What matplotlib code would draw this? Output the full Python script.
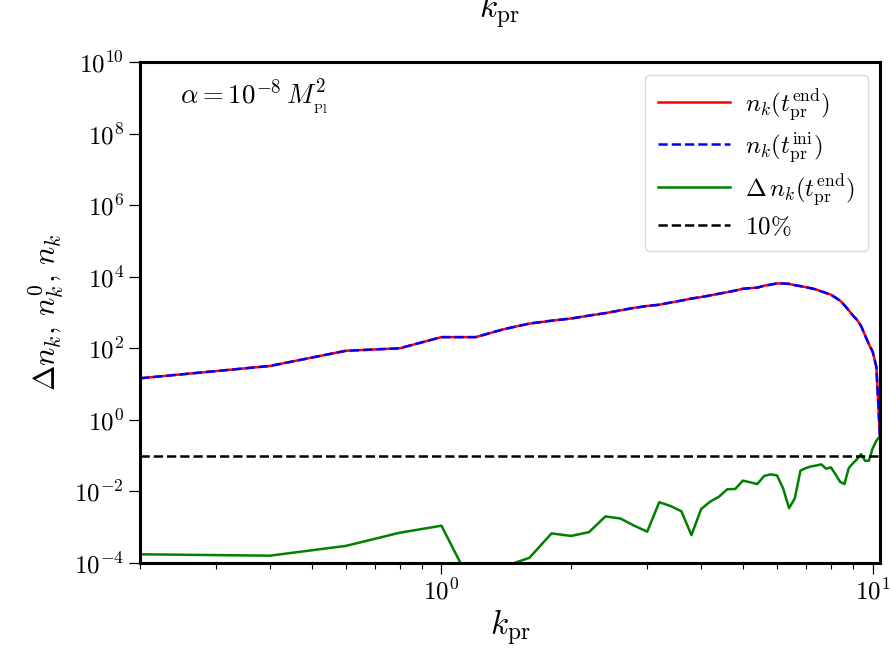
import numpy as np
import matplotlib
matplotlib.use("Agg")
import matplotlib.pyplot as plt
from matplotlib.ticker import FuncFormatter, LogLocator, NullFormatter

plt.rcParams['mathtext.fontset'] = 'cm'
plt.rcParams['font.family'] = 'serif'
plt.rcParams['font.serif'] = ['DejaVu Serif']

# momentum grid
k_pr = [0.2, 0.4, 0.6, 0.8, 1.0, 1.2, 1.4, 1.6, 1.8, 2.0, 2.2, 2.4, 2.6, 2.8, 3.0,
        3.2, 3.4, 3.6, 3.8, 4.0, 4.2, 4.4, 4.6, 4.8, 5.0, 5.2, 5.4, 5.6, 5.8, 6.0,
        6.2, 6.4, 6.6, 6.8, 7.0, 7.2, 7.4, 7.6, 7.8, 8.0, 8.2, 8.4, 8.6, 8.8, 9.0,
        9.2, 9.4, 9.6, 9.8, 10.0, 10.2, 10.4]

n_end = [14.5, 32, 85, 100, 205, 205, 345, 490, 590, 680, 820, 960, 1150, 1350, 1520,
         1650, 1900, 2150, 2450, 2700, 3000, 3350, 3700, 4100, 4600, 4800, 4950, 5600, 6000, 6500,
         6450, 6300, 5800, 5450, 5100, 4750, 4400, 3900, 3500, 3150, 2600, 2150, 1600, 1150, 820,
         620, 420, 230, 130, 80, 30, 0.3]

n_ini = [14.5, 32, 85, 100, 205, 205, 345, 490, 590, 680, 820, 960, 1150, 1350, 1520,
         1650, 1900, 2150, 2450, 2700, 3000, 3350, 3700, 4100, 4600, 4800, 4950, 5600, 6000, 6500,
         6450, 6300, 5800, 5450, 5100, 4750, 4400, 3900, 3500, 3150, 2600, 2150, 1600, 1150, 820,
         620, 420, 230, 130, 80, 30, 0.3]

delta_n = [1.75e-4, 1.6e-4, 3.0e-4, 7.0e-4, 1.1e-3, 1.5e-5, 8e-5, 1.4e-4, 6.7e-4, 5.7e-4,
           7.3e-4, 2.0e-3, 1.75e-3, 1.1e-3, 7.5e-4, 5.0e-3, 3.9e-3, 2.8e-3, 6.0e-4, 3.2e-3,
           5.2e-3, 7.1e-3, 1.15e-2, 1.17e-2, 2.0e-2, 1.8e-2, 1.6e-2, 2.7e-2, 3.0e-2, 2.8e-2,
           1.2e-2, 3.4e-3, 6.5e-3, 3.8e-2, 4.5e-2, 5.0e-2, 5.3e-2, 5.7e-2, 4.3e-2, 4.7e-2,
           3.0e-2, 1.86e-2, 1.6e-2, 4.5e-2, 6.1e-2, 8.0e-2, 0.11, 7.2e-2, 7.2e-2, 0.16,
           0.26, 0.35]

threshold = 0.1
y_ticks_exp = [-4, -2, 0, 2, 4, 6, 8, 10]

fig = plt.figure(figsize=(8.9, 6.48), dpi=100)
ax = fig.add_axes([0.1573, 0.1312, 0.8315, 0.7731])

ax.plot(k_pr, n_end, color='red', lw=1.8, label=r'$n_k(t_{\rm pr}^{\rm end})$')
ax.plot(k_pr, n_ini, color='blue', lw=1.8, ls='--', label=r'$n_k(t_{\rm pr}^{\rm ini})$')
ax.plot(k_pr, delta_n, color='green', lw=1.8, label=r'$\Delta\, n_k(t_{\rm pr}^{\rm end})$')
ax.axhline(threshold, color='black', lw=1.8, ls='--', label=r'$10\%$')

ax.set_xscale('log')
ax.set_yscale('log')
ax.set_xlim(0.2, 10.4)
ax.set_ylim(1e-4, 1e10)

ax.set_yticks([10.0**e for e in y_ticks_exp])
ax.yaxis.set_minor_locator(plt.NullLocator())
fmt = FuncFormatter(lambda v, p: r'$10^{%d}$' % int(round(np.log10(v))))
ax.yaxis.set_major_formatter(fmt)
ax.xaxis.set_major_locator(LogLocator(base=10, numticks=10))
ax.xaxis.set_major_formatter(fmt)
ax.xaxis.set_minor_formatter(NullFormatter())

ax.tick_params(which='major', length=8, width=0.9, labelsize=18, direction='out')
ax.tick_params(which='minor', length=4.5, width=0.8, direction='out')
for s in ax.spines.values():
    s.set_linewidth(2.2)

ax.set_xlabel(r'$k_{\rm pr}$', fontsize=24, labelpad=2)
ax.set_ylabel(r'$\Delta n_k,\, n_k^0,\, n_k$', fontsize=22, labelpad=6)

ax.text(0.054, 0.93, r'$\alpha = 10^{-8}\, M_{_{\rm Pl}}^2$', transform=ax.transAxes,
        fontsize=19.5, va='center', ha='left')

fig.text(0.561, 0.972, r'$k_{\rm pr}$', fontsize=24, ha='center', va='baseline')

leg = ax.legend(loc='upper right', fontsize=18, handlelength=2.9, handletextpad=0.6,
                framealpha=1.0, borderpad=0.5, labelspacing=0.3)
leg.get_frame().set_edgecolor('#d9d9d9')

fig.savefig('out.png', dpi=100)
